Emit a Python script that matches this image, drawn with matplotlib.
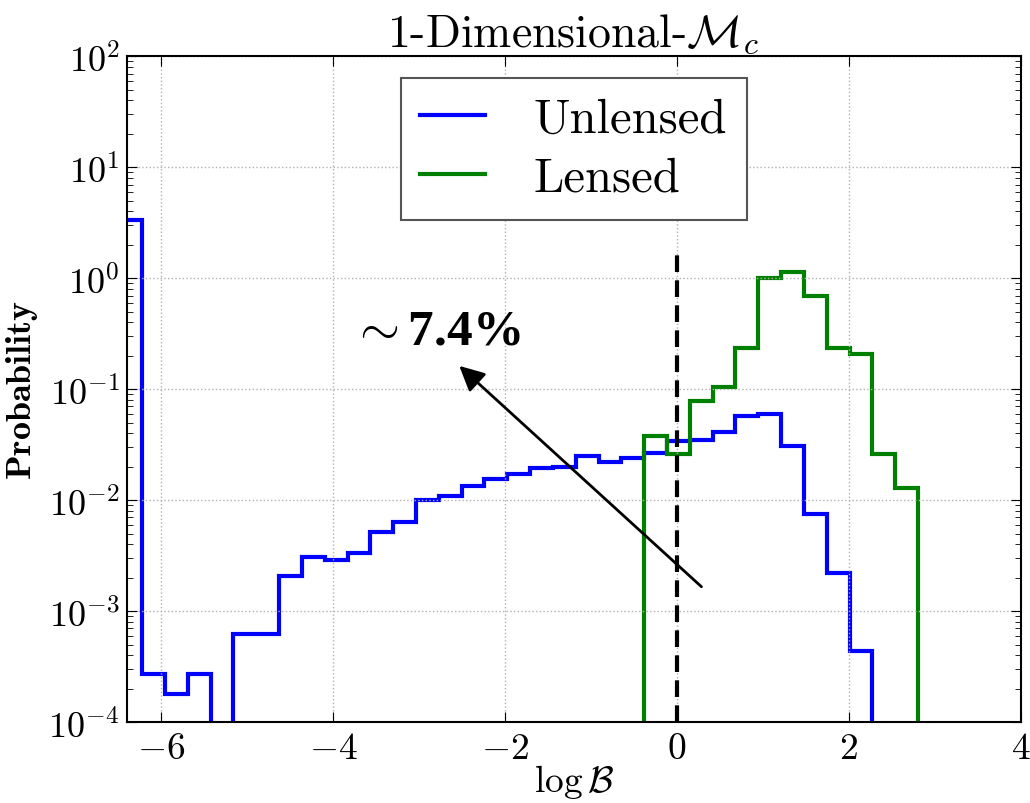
import numpy as np
import matplotlib
matplotlib.use('Agg')
import matplotlib.pyplot as plt

plt.rcParams['font.family'] = 'serif'
plt.rcParams['font.serif'] = ['cmr10']
plt.rcParams['mathtext.fontset'] = 'cm'
plt.rcParams['axes.formatter.use_mathtext'] = True

# histogram bins (log B)
bin_lo = -6.485
bin_hi = 2.805
n_bins = 35
edges = np.linspace(bin_lo, bin_hi, n_bins + 1)

unlensed = [3.35, 2.7e-4, 1.8e-4, 2.7e-4, 0, 6.2e-4, 6.2e-4, 2.1e-3, 3.1e-3,
            2.9e-3, 3.35e-3, 5.2e-3, 6.4e-3, 1.0e-2, 1.1e-2, 1.35e-2, 1.55e-2,
            1.73e-2, 1.94e-2, 1.99e-2, 2.5e-2, 2.2e-2, 2.4e-2, 2.67e-2, 3.4e-2,
            3.5e-2, 4.1e-2, 5.7e-2, 6.0e-2, 3.1e-2, 7.5e-3, 2.2e-3, 4.4e-4, 0, 0]
lensed = [0] * 23 + [3.8e-2, 2.6e-2, 7.8e-2, 0.105, 0.235, 1.0, 1.15, 0.69,
                     0.235, 0.21, 2.6e-2, 1.29e-2]

threshold = 0.0
thr_top = 1.8
arrow_tail = (0.31, 1.6e-3)
arrow_head = (-2.555, 0.169)
label_pos = (-3.8, 0.256)
label_txt = r'$\sim$7.4%'

fig = plt.figure(figsize=(10.3, 8.04), dpi=100)
ax = fig.add_axes([0.123, 0.1004, 0.868, 0.8283])

ax.stairs(unlensed, edges, color='#0000ff', lw=3, label='Unlensed')
ax.stairs(lensed, edges, color='#008000', lw=3, label='Lensed')
ax.plot([threshold, threshold], [1e-4, thr_top], 'k--', lw=3, dashes=(4, 2))

ax.annotate('', xy=arrow_head, xytext=arrow_tail,
            arrowprops=dict(arrowstyle='-|>', color='k', lw=2, mutation_scale=38))
ax.text(label_pos[0], label_pos[1], label_txt, family='Liberation Serif',
        fontweight='bold', fontsize=37, va='baseline', ha='left')

ax.set_yscale('log')
ax.set_xlim(-6.4, 4)
ax.set_ylim(1e-4, 1e2)
ax.set_xticks([-6, -4, -2, 0, 2, 4])
ax.grid(True, which='major', ls=':', color='#b0b0b0', lw=1)
ax.tick_params(which='both', direction='in', top=True, right=True)
ax.tick_params(axis='x', labelsize=27, pad=7)
ax.tick_params(axis='y', labelsize=26, pad=5)
ax.tick_params(which='major', length=7)
ax.tick_params(which='minor', length=4)
for s in ax.spines.values():
    s.set_linewidth(1.5)

ax.set_title(r'1-Dimensional-$\mathcal{M}_c$', fontsize=33, pad=6)
ax.set_xlabel(r'$\log\mathcal{B}$', fontsize=27, labelpad=-2)
ax.set_ylabel(r'$\mathbf{Probability}$', fontsize=26, labelpad=6)

leg = ax.legend(loc='upper center', fontsize=35, handlelength=1.34,
                handletextpad=1.0, fancybox=False, framealpha=1,
                borderaxespad=0.45, labelspacing=0.3)
leg.get_frame().set_edgecolor('#555555')
leg.get_frame().set_linewidth(1.5)

plt.savefig('out.png')
